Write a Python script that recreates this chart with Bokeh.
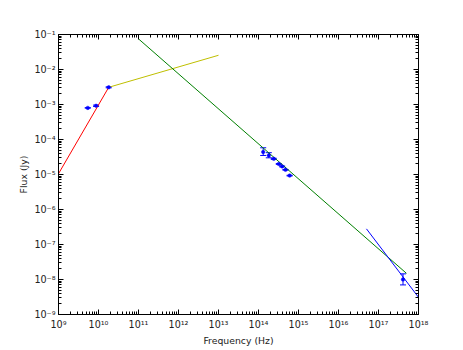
from bokeh.plotting import figure
from bokeh.models import (ColumnDataSource, LogAxis, FixedTicker, CustomJSTickFormatter,
                          Whisker, TeeHead, Range1d)
from bokeh.embed import file_html
from bokeh.resources import INLINE

# ---------------- data ----------------
x_exps = list(range(9, 19))
x_tick_labels = ["10⁹", "10¹⁰", "10¹¹", "10¹²", "10¹³", "10¹⁴", "10¹⁵", "10¹⁶", "10¹⁷", "10¹⁸"]
y_exps = list(range(-9, 0))
y_tick_labels = ["10⁻⁹", "10⁻⁸", "10⁻⁷", "10⁻⁶", "10⁻⁵", "10⁻⁴", "10⁻³", "10⁻²", "10⁻¹"]

# model components (power-law segments)
red_x = [1e9, 1.8e10]
red_y = [1.05e-5, 3.1e-3]
yellow_x = [1.8e10, 1e13]
yellow_y = [3.1e-3, 2.55e-2]
green_x = [1e11, 5e17]
green_y = [7.5e-2, 1.5e-8]
blue_x = [5e16, 1e18]
blue_y = [2.8e-7, 3.1e-9]

# observed points with errors
obs_nu = [5.4e9, 8.7e9, 1.8e10,
          1.31e14, 1.81e14, 2.41e14, 3.22e14, 3.9e14, 4.73e14, 6.0e14,
          4.1e17]
obs_flux = [8.0e-4, 9.2e-4, 3.1e-3,
            4.4e-5, 3.5e-5, 2.8e-5, 2.0e-5, 1.7e-5, 1.36e-5, 9.3e-6,
            1.0e-8]
obs_lo = [7.9e-4, 8.8e-4, 3.0e-3,
          3.5e-5, 3.0e-5, 2.7e-5, 1.95e-5, 1.65e-5, 1.33e-5, 9.1e-6,
          7.0e-9]
obs_hi = [8.1e-4, 9.6e-4, 3.2e-3,
          5.8e-5, 4.2e-5, 2.9e-5, 2.05e-5, 1.75e-5, 1.39e-5, 9.5e-6,
          1.45e-8]

# ---------------- figure ----------------
FONT = "DejaVu Sans"
p = figure(width=463, height=350, x_axis_type="log", y_axis_type="log",
           x_range=Range1d(10 ** x_exps[0], 10 ** x_exps[-1]),
           y_range=Range1d(10 ** y_exps[0], 10 ** y_exps[-1]),
           output_backend="svg", toolbar_location=None,
           min_border_left=58, min_border_right=45, min_border_top=34, min_border_bottom=36)
p.background_fill_color = "white"
p.border_fill_color = "white"
p.grid.visible = False
p.outline_line_color = "black"
p.outline_line_width = 1

x_major = [10.0 ** e for e in x_exps]
x_minor = [m * 10.0 ** e for e in x_exps[:-1] for m in range(2, 10)]
y_major = [10.0 ** e for e in y_exps]
y_minor = [m * 10.0 ** e for e in y_exps[:-1] for m in range(2, 10)]

def fmt(exps, labels):
    return CustomJSTickFormatter(args=dict(exps=exps, labels=labels), code="""
        const e = Math.round(Math.log10(tick));
        const i = exps.indexOf(e);
        return i >= 0 ? labels[i] : "";
    """)

def blank():
    return CustomJSTickFormatter(code="return '';")

def style(ax):
    ax.major_tick_in = 5
    ax.major_tick_out = 0
    ax.minor_tick_in = 3
    ax.minor_tick_out = 0
    ax.axis_line_color = "black"
    ax.major_tick_line_color = "black"
    ax.minor_tick_line_color = "black"
    ax.major_label_text_font = FONT
    ax.major_label_text_font_size = "9.6px"
    ax.major_label_text_color = "#222222"
    ax.axis_label_text_font = FONT
    ax.axis_label_text_font_size = "9.3px"
    ax.axis_label_text_font_style = "normal"
    ax.axis_label_text_color = "#222222"

xa = p.xaxis[0]
xa.ticker = FixedTicker(ticks=x_major, minor_ticks=x_minor)
xa.formatter = fmt(x_exps, x_tick_labels)
xa.axis_label = "Frequency (Hz)"
style(xa)
xa.major_label_standoff = 4
xa.axis_label_standoff = 2

ya = p.yaxis[0]
ya.ticker = FixedTicker(ticks=y_major, minor_ticks=y_minor)
ya.formatter = fmt(y_exps, y_tick_labels)
ya.axis_label = "Flux (Jy)"
style(ya)
ya.major_label_standoff = 3
ya.axis_label_standoff = 2

top = LogAxis(ticker=FixedTicker(ticks=x_major, minor_ticks=x_minor), formatter=blank())
style(top)
top.major_label_text_font_size = "0px"
top.major_label_standoff = 0
p.add_layout(top, "above")

right = LogAxis(ticker=FixedTicker(ticks=y_major, minor_ticks=y_minor), formatter=blank())
style(right)
right.major_label_text_font_size = "0px"
right.major_label_standoff = 0
p.add_layout(right, "right")

# model lines
p.line(red_x, red_y, line_color="#ff0000", line_width=1)
p.line(yellow_x, yellow_y, line_color="#bfbf00", line_width=1)
p.line(green_x, green_y, line_color="#008000", line_width=1)
p.line(blue_x, blue_y, line_color="#0000ff", line_width=1)

# data points + error bars
src = ColumnDataSource(dict(x=obs_nu, y=obs_flux, lo=obs_lo, hi=obs_hi))
w = Whisker(source=src, base="x", lower="lo", upper="hi", dimension="height",
            line_color="#0000ff", line_width=1,
            lower_head=TeeHead(size=6, line_color="#0000ff", line_width=1),
            upper_head=TeeHead(size=6, line_color="#0000ff", line_width=1))
p.add_layout(w)
p.scatter("x", "y", source=src, size=3.5, fill_color="#0000ff", line_color="#0000ff",
          line_width=0.5)

open("out.html", "w").write(file_html(p, INLINE))
